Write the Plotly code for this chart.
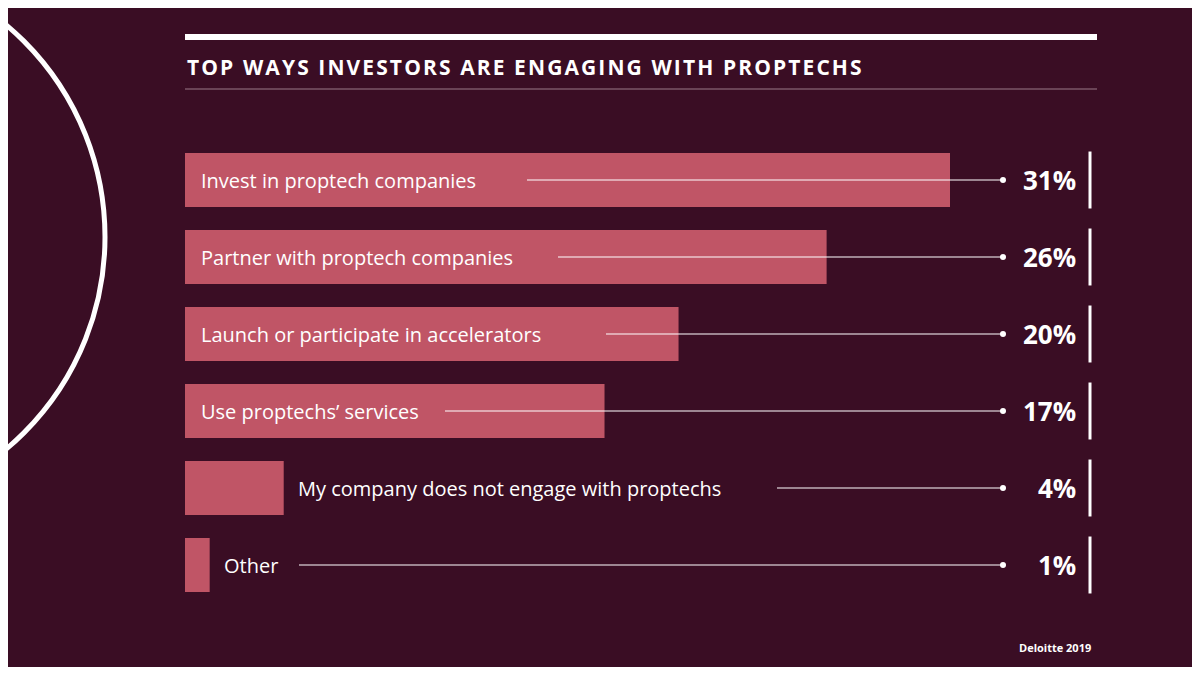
import plotly.graph_objects as go

categories = ["Invest in proptech companies", "Partner with proptech companies",
              "Launch or participate in accelerators", "Use proptechs\u2019 services",
              "My company does not engage with proptechs", "Other"]
values = [31, 26, 20, 17, 4, 1]
labels = ["31%", "26%", "20%", "17%", "4%", "1%"]

BG = "#3a0d24"
BAR = "#c05566"
W, H = 1184, 659       # page adds 8px margin on each side
O = 8                  # offset of figure inside the page
PX = 765 / 31          # pixels per percent
X0 = 185 - O           # pixel where 0% sits
def dx(px):            # page pixel -> data x
    return (px - O - X0) / PX

# where the leader line starts after each label (page pixels)
line_start_px = [527, 558, 606, 445, 777, 299]

fig = go.Figure()
fig.add_trace(go.Bar(x=values, y=list(range(len(values))), orientation="h",
                     marker=dict(color=BAR, line=dict(width=0)), width=0.70,
                     hoverinfo="skip"))
fig.add_trace(go.Scatter(x=[dx(1003)] * len(values), y=list(range(len(values))),
                         mode="markers", marker=dict(color="white", size=6)))

for i, (c, v, lab) in enumerate(zip(categories, values, labels)):
    inside = v >= 10
    tx = dx(199) if inside else v + 12 / PX
    fig.add_annotation(x=tx, y=i, text=c, showarrow=False, xanchor="left",
                       font=dict(color="white", size=20, family="Open Sans"))
    fig.add_shape(type="line", x0=dx(line_start_px[i]), x1=dx(1003), y0=i, y1=i,
                  line=dict(color="white", width=1.2))
    fig.add_annotation(x=dx(1078), y=i, text="<b>%s</b>" % lab, showarrow=False,
                       xanchor="right",
                       font=dict(color="white", size=26, family="Open Sans"))
    fig.add_shape(type="line", x0=dx(1090), x1=dx(1090), y0=i - 0.37, y1=i + 0.37,
                  line=dict(color="white", width=3))

def px_x(p): return (p - O) / W
def px_y(p): return 1 - (p - O) / H

fig.add_shape(type="line", xref="paper", yref="paper", x0=px_x(185), x1=px_x(1097),
              y0=px_y(37), y1=px_y(37), line=dict(color="white", width=6))
fig.add_shape(type="line", xref="paper", yref="paper", x0=px_x(185), x1=px_x(1097),
              y0=px_y(89), y1=px_y(89), line=dict(color="#9a7a88", width=1))
r, cx, cy = 277, -172, 237
fig.add_shape(type="circle", xref="paper", yref="paper", x0=px_x(cx - r), x1=px_x(cx + r),
              y0=px_y(cy + r), y1=px_y(cy - r), line=dict(color="white", width=5))
title = "TOP WAYS INVESTORS ARE ENGAGING WITH PROPTECHS"
spaced = "\u200a".join(title)
fig.add_annotation(xref="paper", yref="paper", x=px_x(185), y=px_y(67), showarrow=False,
                   xanchor="left", yanchor="middle", text="<b>%s</b>" % spaced,
                   font=dict(color="white", size=21, family="Open Sans"))
fig.add_annotation(xref="paper", yref="paper", x=px_x(1093), y=px_y(647), showarrow=False,
                   xanchor="right", yanchor="middle", text="<b>Deloitte 2019</b>",
                   font=dict(color="white", size=11, family="Open Sans"))

fig.update_layout(width=W, height=H, paper_bgcolor=BG, plot_bgcolor=BG,
                  margin=dict(l=0, r=0, t=0, b=0), showlegend=False,
                  xaxis=dict(range=[dx(O), dx(O + W)], visible=False, fixedrange=True),
                  yaxis=dict(range=[(H + O - 180) / 77, (O - 180) / 77], visible=False))
fig.write_html("out.html")
